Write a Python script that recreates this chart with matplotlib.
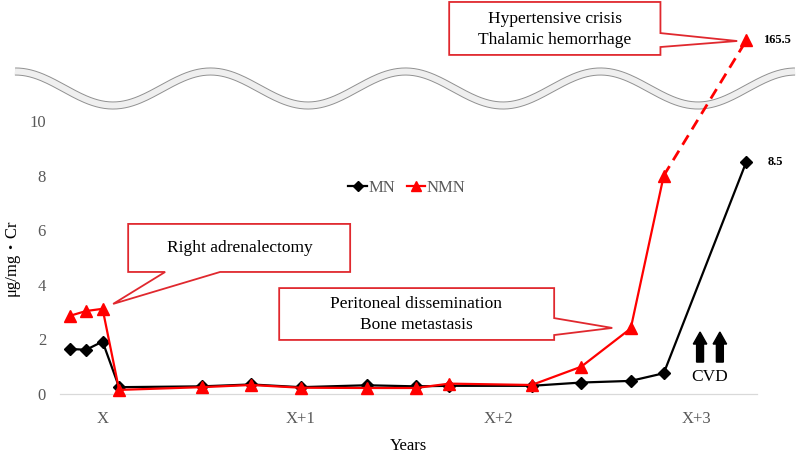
import numpy as np
import matplotlib
matplotlib.use("Agg")
import matplotlib.pyplot as plt
from matplotlib.patches import Polygon, FancyArrow

plt.rcParams['font.family'] = ['Liberation Serif', 'Noto Sans CJK JP']

# months relative to year X
months = [-2, -1, 0, 1, 6, 9, 12, 16, 19, 21, 26, 29, 32, 34, 39]
mn = [1.65, 1.62, 1.92, 0.25, 0.28, 0.35, 0.25, 0.32, 0.28, 0.3, 0.3, 0.42, 0.48, 0.76, 8.5]
nmn = [2.86, 3.04, 3.12, 0.15, 0.25, 0.33, 0.23, 0.22, 0.22, 0.38, 0.33, 1.0, 2.4, 8.0, 165.5]
tick_months = [0, 12, 24, 36]
tick_labels = ['X', 'X+1', 'X+2', 'X+3']
yticks = [0, 2, 4, 6, 8, 10]

BREAK_Y = 12.95   # where values above the axis break are drawn
RED = '#ff0000'
BOX_RED = '#e0282e'
GRAY = '#595959'

nmn_disp = np.where(np.array(nmn) > 10, BREAK_Y, nmn)

fig = plt.figure(figsize=(8, 4.53), dpi=100)
ax = fig.add_axes([60 / 800, 59 / 453, 697 / 800, 382.2 / 453])
ax.set_xlim(-2.58, 39.65)
ax.set_ylim(0, 14)

# wavy break band, drawn in figure pixels
wx = np.linspace(15, 795, 400)
wy = 88.5 + 17 * np.cos(2 * np.pi * (wx - 113) / 195)
ax.plot(wx / 800, 1 - wy / 453, transform=fig.transFigure, clip_on=False,
        color='#909090', lw=5.8, solid_capstyle='butt', zorder=1)
ax.plot(wx / 800, 1 - wy / 453, transform=fig.transFigure, clip_on=False,
        color='#efefef', lw=4.4, solid_capstyle='butt', zorder=1.1)

# series
l_mn, = ax.plot(months, mn, color='black', lw=1.6, marker='D', ms=6.5,
                label='MN', zorder=3, clip_on=False)
l_nmn, = ax.plot(months[:-1], nmn_disp[:-1], color=RED, lw=1.6, marker='^', ms=9,
                 label='NMN', zorder=4, clip_on=False)
ax.plot(months[-2:], nmn_disp[-2:], color=RED, lw=2.0, ls=(0, (4, 2.5)), zorder=4, clip_on=False)
ax.plot(months[-1], nmn_disp[-1], color=RED, marker='^', ms=9, ls='none', zorder=4, clip_on=False)

ax.text(months[-1] + 1.0, nmn_disp[-1], f'{nmn[-1]}', fontsize=9, fontweight='bold',
        va='center', ha='left')
ax.text(months[-1] + 1.3, mn[-1], f'{mn[-1]}', fontsize=9, fontweight='bold',
        va='center', ha='left')

# axes styling
for s in ['top', 'right', 'left']:
    ax.spines[s].set_visible(False)
ax.spines['bottom'].set_color('#d9d9d9')
ax.spines['bottom'].set_linewidth(0.9)
ax.set_xticks(tick_months)
ax.set_xticklabels(tick_labels)
ax.set_yticks(yticks)
ax.tick_params(axis='both', length=0, labelsize=12, labelcolor=GRAY)
ax.tick_params(axis='x', pad=12)
ax.tick_params(axis='y', pad=10)
ax.set_xlabel('Years', fontsize=12, labelpad=10)
ax.xaxis.set_label_coords(0.5, -0.115)
fig.text(12 / 800, 1 - 258 / 453, 'μg/mg・Cr', rotation=90, fontsize=12,
         ha='center', va='center')

leg = ax.legend(handles=[l_mn, l_nmn], loc='center', ncol=2, frameon=False,
                bbox_to_anchor=(407 / 800, 1 - 188 / 453), bbox_transform=fig.transFigure,
                fontsize=12, handlelength=1.1, handletextpad=0.1, columnspacing=0.7,
                markerscale=0.75)
for t in leg.get_texts():
    t.set_color(GRAY)


def callout(verts, text, tx, ty):
    ax.add_patch(Polygon(verts, closed=True, facecolor='white', edgecolor=BOX_RED,
                         lw=1.3, zorder=5, clip_on=False))
    ax.text(tx, ty, text, ha='center', va='center', fontsize=12.5, zorder=6,
            linespacing=1.4)


callout([(1.55, 6.23), (15.0, 6.23), (15.0, 4.47), (7.12, 4.47), (0.64, 3.30),
         (3.79, 4.47), (1.55, 4.47)],
        'Right adrenalectomy', 8.3, 5.33)
callout([(10.7, 3.88), (27.36, 3.88), (27.36, 2.78), (30.88, 2.42), (27.36, 2.16),
         (27.36, 1.98), (10.7, 1.98)],
        'Peritoneal dissemination\nBone metastasis', 19.0, 2.9)
callout([(21.0, 14.36), (33.8, 14.36), (33.8, 13.22), (38.45, 12.93), (33.8, 12.71),
         (33.8, 12.42), (21.0, 12.42)],
        'Hypertensive crisis\nThalamic hemorrhage', 27.4, 13.35)

# CVD arrows
for ax_x in [36.2, 37.4]:
    ax.add_patch(FancyArrow(ax_x, 1.17, 0, 1.1, width=0.42, head_width=0.82,
                            head_length=0.44, length_includes_head=True,
                            color='black', zorder=5))
ax.text(36.8, 0.62, 'CVD', ha='center', va='center', fontsize=12.5)

fig.savefig('out.png', dpi=100)
